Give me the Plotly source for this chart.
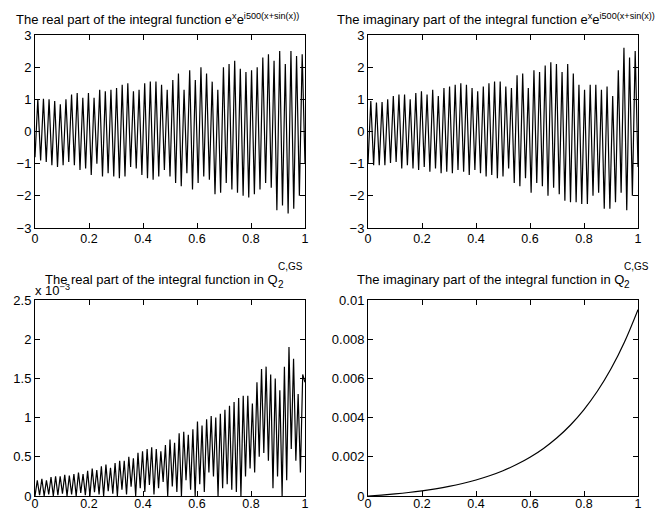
import numpy as np
import plotly.graph_objects as go

# ---------------- data ----------------
# top-left: real part, alternating trough/peak values
tl_troughs = [-0.8, -0.9, -0.95, -1.05, -1.1, -1.05, -0.95, -1.05, -1.2, -1.15, -1.35, -1.0, -1.4, -1.3, -1.4, -1.45,
              -1.4, -1.1, -1.15, -1.35, -1.45, -1.5, -1.4, -1.2, -1.4, -1.6, -1.7, -1.3, -1.8, -1.6, -1.4, -1.5,
              -1.95, -1.9, -1.6, -1.8, -1.9, -2.0, -2.05, -1.95, -1.8, -1.6, -1.75, -2.45, -2.3, -2.55, -2.4, -2.0]
tl_peaks = [1.0, 1.02, 1.0, 0.95, 0.85, 1.0, 1.15, 1.2, 1.05, 1.2, 1.05, 1.3, 1.25, 1.3, 1.35, 1.45,
            1.5, 1.25, 1.3, 1.5, 1.55, 1.55, 1.45, 1.3, 1.6, 1.8, 1.3, 1.9, 1.6, 2.0, 1.8, 1.55,
            1.3, 2.0, 2.1, 2.2, 1.95, 1.85, 1.9, 2.0, 2.3, 2.4, 2.2, 2.5, 2.1, 2.5, 2.35, 2.4]
tl_end = -1.0

# top-right: imaginary part
tr_troughs = [-1.0, -1.05, -1.05, -1.05, -0.98, -0.95, -1.15, -1.05, -1.15, -1.2, -1.1, -1.25, -1.15, -1.3, -1.25, -1.3,
              -1.2, -1.25, -1.35, -1.2, -1.3, -1.4, -1.35, -1.45, -1.4, -1.15, -1.6, -1.7, -1.45, -1.9, -1.6, -1.7,
              -2.0, -1.75, -1.95, -2.15, -2.2, -2.2, -2.25, -2.25, -2.0, -1.9, -2.4, -2.4, -2.2, -1.9, -2.45, -2.0]
tr_peaks = [0.95, 0.9, 0.92, 1.0, 1.1, 1.15, 1.15, 1.0, 1.2, 1.25, 1.15, 1.3, 1.1, 1.35, 1.4, 1.45,
            1.5, 1.45, 1.35, 1.25, 1.4, 1.5, 1.55, 1.55, 1.4, 1.35, 1.75, 1.8, 1.35, 1.9, 1.85, 2.05,
            2.15, 2.1, 1.85, 2.1, 1.8, 1.45, 1.3, 1.45, 1.45, 1.3, 1.4, 1.1, 1.9, 2.6, 2.3, 2.5]
tr_end = -1.1

# bottom-left: real part in Q (units of 1e-3)
bl_troughs = [0, 0.01, 0, 0.02, 0, 0.01, 0.03, 0, 0.02, 0, 0.04, 0.01, 0, 0.05, 0.02, 0, 0.06, 0.03, 0,
              0.08, 0.02, 0.12, 0, 0.1, 0.05, 0.14, 0.02, 0.1, 0.18, 0.0, 0.12, 0.05, 0.0, 0.2, 0.08, 0.0, 0.15, 0.05, 0.3,
              0.25, 0.0, 0.1, 0.15, 0.08, 0.05, 0.0, 0.25, 0.35, 0.3, 0.5, 0.55, 0.45, 0.1, 0.25, 0.0, 0.2, 0.6, 0.45, 0.3]
bl_peaks = [0.2, 0.22, 0.2, 0.24, 0.25, 0.25, 0.27, 0.26, 0.28, 0.3, 0.28, 0.32, 0.35, 0.33, 0.38, 0.4, 0.36, 0.42, 0.45,
            0.45, 0.5, 0.48, 0.55, 0.57, 0.6, 0.62, 0.6, 0.57, 0.65, 0.72, 0.68, 0.8, 0.82, 0.78, 0.85, 0.95, 0.9, 0.98, 1.02,
            1.0, 1.05, 1.1, 1.15, 1.2, 1.25, 1.28, 1.28, 1.18, 1.45, 1.62, 1.65, 1.55, 1.5, 1.35, 1.65, 1.9, 1.75, 1.3, 1.55]
bl_end = 1.45

# bottom-right: imaginary part in Q (smooth)
br_x = [0, 0.05, 0.1, 0.15, 0.2, 0.25, 0.3, 0.35, 0.4, 0.45, 0.5,
        0.55, 0.6, 0.65, 0.7, 0.75, 0.8, 0.85, 0.9, 0.95, 1.0]
br_y = [0, 0.000049, 0.000108, 0.000179, 0.000264, 0.000367, 0.00049, 0.000639, 0.000818, 0.001033, 0.001292,
        0.001603, 0.001978, 0.002429, 0.002972, 0.003624, 0.00441, 0.005355, 0.006492, 0.00786, 0.00951]

x_ticks = [0, 0.2, 0.4, 0.6, 0.8, 1]
x_ticklabels = ["0", "0.2", "0.4", "0.6", "0.8", "1"]
top_yticks = [-3, -2, -1, 0, 1, 2, 3]
top_yticklabels = ["\u22123", "\u22122", "\u22121", "0", "1", "2", "3"]
bl_yticks = [0, 0.5, 1, 1.5, 2, 2.5]
bl_yticklabels = ["0", "0.5", "1", "1.5", "2", "2.5"]
br_yticks = [0, 0.002, 0.004, 0.006, 0.008, 0.01]
br_yticklabels = ["0", "0.002", "0.004", "0.006", "0.008", "0.01"]


def zigzag(troughs, peaks, end):
    ys = []
    for t, p in zip(troughs, peaks):
        ys += [t, p]
    ys.append(end)
    return ys


tl_y = zigzag(tl_troughs, tl_peaks, tl_end)
tr_y = zigzag(tr_troughs, tr_peaks, tr_end)
bl_y = zigzag(bl_troughs, bl_peaks, bl_end)

W, H = 658, 512
FONT = "Liberation Sans, Arial, Helvetica, sans-serif"
FS = 13
TFS = 13

fig = go.Figure()
line = dict(color="black", width=1.2)
fig.add_trace(go.Scatter(x=np.linspace(0, 1, len(tl_y)), y=tl_y, mode="lines", line=line, xaxis="x", yaxis="y"))
fig.add_trace(go.Scatter(x=np.linspace(0, 1, len(tr_y)), y=tr_y, mode="lines", line=line, xaxis="x2", yaxis="y2"))
fig.add_trace(go.Scatter(x=np.linspace(0, 1, len(bl_y)), y=bl_y, mode="lines", line=line, xaxis="x3", yaxis="y3"))
fig.add_trace(go.Scatter(x=br_x, y=br_y, mode="lines", line=dict(color="black", width=1.2, shape="spline"),
                         xaxis="x4", yaxis="y4"))


def px_x(p):
    return p / W


def px_y(p):
    return 1 - p / H


common = dict(showline=True, linecolor="black", linewidth=1, mirror="allticks", ticks="inside",
              ticklen=5, tickcolor="black", showgrid=False, zeroline=False, automargin=False,
              tickfont=dict(family=FONT, size=FS, color="black"))
xtop = dict(common, ticklabelstandoff=-1, tickfont=dict(family=FONT, size=12.5, color="black"))
xbot = dict(common, ticklabelstandoff=-4, tickfont=dict(family=FONT, size=12.5, color="black"))

dom_xl = [px_x(35), px_x(305)]
dom_xr = [px_x(368), px_x(638)]
dom_yt = [px_y(228), px_y(35)]
dom_yb = [px_y(496), px_y(300)]

fig.update_layout(
    width=W, height=H, margin=dict(l=0, r=0, t=0, b=0, autoexpand=False),
    paper_bgcolor="white", plot_bgcolor="white", showlegend=False,
    font=dict(family=FONT, size=FS, color="black"),
    xaxis=dict(domain=dom_xl, anchor="y", range=[0, 1], tickvals=x_ticks, ticktext=x_ticklabels, **xtop),
    yaxis=dict(domain=dom_yt, anchor="x", range=[-3, 3], tickvals=top_yticks, ticktext=top_yticklabels, **common),
    xaxis2=dict(domain=dom_xr, anchor="y2", range=[0, 1], tickvals=x_ticks, ticktext=x_ticklabels, **xtop),
    yaxis2=dict(domain=dom_yt, anchor="x2", range=[-3, 3], tickvals=top_yticks, ticktext=top_yticklabels, **common),
    xaxis3=dict(domain=dom_xl, anchor="y3", range=[0, 1], tickvals=x_ticks, ticktext=x_ticklabels, **xbot),
    yaxis3=dict(domain=dom_yb, anchor="x3", range=[0, 2.5], tickvals=bl_yticks, ticktext=bl_yticklabels, **common),
    xaxis4=dict(domain=dom_xr, anchor="y4", range=[0, 1], tickvals=x_ticks, ticktext=x_ticklabels, **xbot),
    yaxis4=dict(domain=dom_yb, anchor="x4", range=[0, 0.01], tickvals=br_yticks, ticktext=br_yticklabels, **common),
)

ann = []
tf = dict(family=FONT, size=TFS, color="black")
sf = dict(family=FONT, size=10, color="black")
ann.append(dict(text="The real part of the integral function e<sup>x</sup>e<sup>i500(x+sin(x))</sup>",
                x=px_x(157), y=px_y(19), xref="paper", yref="paper", xanchor="center", yanchor="middle",
                showarrow=False, font=tf))
ann.append(dict(text="The imaginary part of the integral function e<sup>x</sup>e<sup>i500(x+sin(x))</sup>",
                x=px_x(496), y=px_y(19), xref="paper", yref="paper", xanchor="center", yanchor="middle",
                showarrow=False, font=tf))
# bottom titles with stacked sub/superscript
for qx, txt in [(px_x(280), "The real part of the integral function in Q"),
                (px_x(626), "The imaginary part of the integral function in Q")]:
    ann.append(dict(text=txt, x=qx, y=px_y(279), xref="paper", yref="paper", xanchor="right",
                    yanchor="middle", showarrow=False, font=tf))
    ann.append(dict(text="C,GS", x=qx - px_x(4), y=px_y(266), xref="paper", yref="paper", xanchor="left",
                    yanchor="middle", showarrow=False, font=sf))
    ann.append(dict(text="2", x=qx - px_x(4), y=px_y(284), xref="paper", yref="paper", xanchor="left",
                    yanchor="middle", showarrow=False, font=sf))
ann.append(dict(text="x 10<sup>\u22123</sup>", x=px_x(33), y=px_y(290), xref="paper", yref="paper",
                xanchor="left", yanchor="middle", showarrow=False, font=tf))
fig.update_layout(annotations=ann)

fig.write_html("out.html", config={"displayModeBar": False},
               post_script="document.body.style.margin='0';")
